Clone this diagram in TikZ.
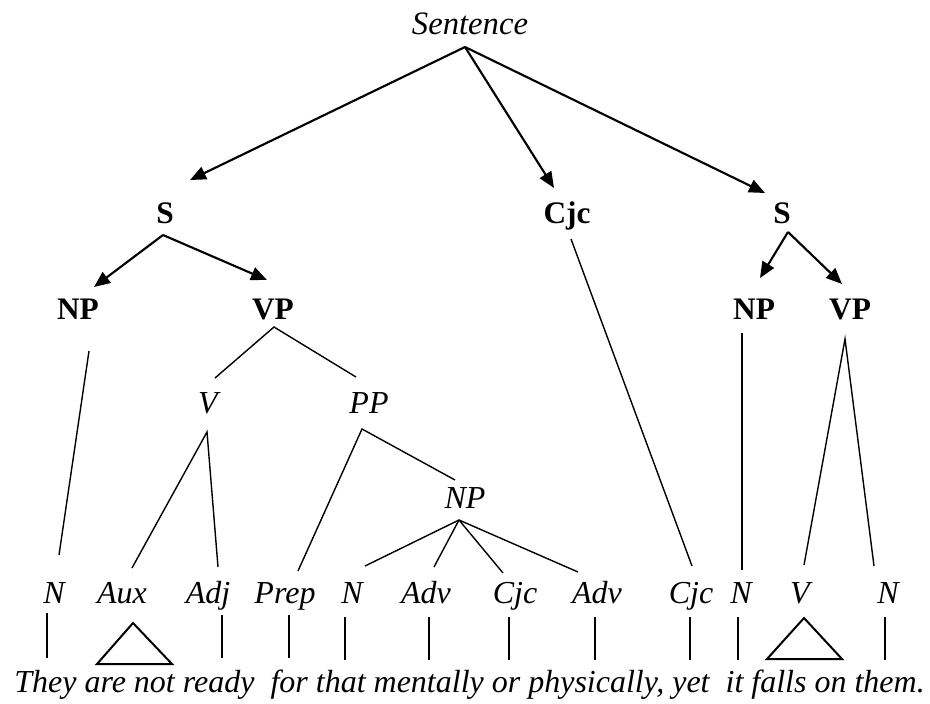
\documentclass[tikz,border=0pt]{standalone}
\usepackage{fontspec}
\setmainfont{Liberation Serif}
\usetikzlibrary{arrows.meta}
\begin{document}
\begin{tikzpicture}[x=0.75pt,y=-0.75pt,
  lab/.style={anchor=base,inner sep=0pt},
  topl/.style={lab,font=\fontsize{24.5}{29}\selectfont\itshape},
  cat/.style={lab,font=\fontsize{23.5}{28}\selectfont\bfseries},
  mid/.style={lab,font=\fontsize{24}{28}\selectfont\itshape},
  leaf/.style={lab,font=\fontsize{24}{28}\selectfont\itshape},
  arr/.style={line width=1.6pt,-{Triangle[length=12pt,width=10pt]}},
  ln/.style={line width=1.05pt},
  bar/.style={line width=1.15pt},
  tri/.style={line width=1.5pt,line join=miter}]
\useasboundingbox (0,0) rectangle (930,703);
% nodes
\node[topl] (Sent) at (470,34) {Sentence};
\node[cat] (S1) at (165,223) {S};
\node[cat] (Cjc0) at (567,223) {Cjc};
\node[cat] (S2) at (782,223) {S};
\node[cat] (NP1) at (78,319) {NP};
\node[cat] (VP1) at (273,319) {VP};
\node[cat] (NP2) at (754,319) {NP};
\node[cat] (VP2) at (850,319) {VP};
\node[mid] (V1) at (208,413) {V};
\node[mid] (PP) at (369,413) {PP};
\node[mid] (NP3) at (465,508) {NP};
\node[leaf] (N1) at (54,603) {N};
\node[leaf] (Aux) at (122,603) {Aux};
\node[leaf] (Adj) at (208,603) {Adj};
\node[leaf] (Prep) at (285,603) {Prep};
\node[leaf] (N2) at (352,603) {N};
\node[leaf] (Adv1) at (426,603) {Adv};
\node[leaf] (Cjc1) at (515,603) {Cjc};
\node[leaf] (Adv2) at (597,603) {Adv};
\node[leaf] (Cjc2) at (691,603) {Cjc};
\node[leaf] (N3) at (741,603) {N};
\node[leaf] (V2) at (800,603) {V};
\node[leaf] (N4) at (888,603) {N};
\node[leaf] (W) at (469.5,692) {They are not ready\ \ for that mentally or physically, yet\ \ it falls on them.};
% arrows
\draw[arr] ([shift={(-5,13)}]Sent.base) -- ([shift={(25,-43)}]S1.base);
\draw[arr] ([shift={(-5,13)}]Sent.base) -- ([shift={(-13,-35)}]Cjc0.base);
\draw[arr] ([shift={(-5,13)}]Sent.base) -- ([shift={(-17,-30)}]S2.base);
\draw[arr] ([shift={(-2,12)}]S1.base) -- ([shift={(16,-32)}]NP1.base);
\draw[arr] ([shift={(-2,12)}]S1.base) -- ([shift={(-6,-39)}]VP1.base);
\draw[arr] ([shift={(6,9)}]S2.base) -- ([shift={(6,-41)}]NP2.base);
\draw[arr] ([shift={(6,9)}]S2.base) -- ([shift={(-8,-35)}]VP2.base);
% lines
\draw[ln] ([shift={(11,32)}]NP1.base) -- ([shift={(5,-48)}]N1.base);
\draw[ln] ([shift={(7,-35)}]V1.base) -- ([shift={(1,8)}]VP1.base) -- ([shift={(-13,-36)}]PP.base);
\draw[ln] ([shift={(10,-35)}]Aux.base) -- ([shift={(-1,19)}]V1.base) -- ([shift={(10,-36)}]Adj.base);
\draw[ln] ([shift={(13,-32)}]Prep.base) -- ([shift={(-7,16)}]PP.base) -- ([shift={(-10,-28)}]NP3.base);
\draw[ln] ([shift={(-6,12)}]NP3.base) -- ([shift={(13,-37)}]N2.base);
\draw[ln] ([shift={(-6,12)}]NP3.base) -- ([shift={(8,-36)}]Adv1.base);
\draw[ln] ([shift={(-6,12)}]NP3.base) -- ([shift={(-12,-30)}]Cjc1.base);
\draw[ln] ([shift={(-6,12)}]NP3.base) -- ([shift={(-19,-31)}]Adv2.base);
\draw[ln] ([shift={(4,16)}]Cjc0.base) -- ([shift={(1,-37)}]Cjc2.base);
\draw[ln] ([shift={(-12,14)}]NP2.base) -- ([shift={(1,-33)}]N3.base);
\draw[ln] ([shift={(4,-38)}]V2.base) -- ([shift={(-5,20)}]VP2.base) -- ([shift={(-14,-37)}]N4.base);
% bars
\draw[bar] ([shift={(-7,10)}]N1.base) -- ([shift={(-7,55)}]N1.base);
\draw[bar] ([shift={(14,12)}]Adj.base) -- ([shift={(14,55)}]Adj.base);
\draw[bar] ([shift={(4,12)}]Prep.base) -- ([shift={(4,55)}]Prep.base);
\draw[bar] ([shift={(-7,14)}]N2.base) -- ([shift={(-7,57)}]N2.base);
\draw[bar] ([shift={(3,14)}]Adv1.base) -- ([shift={(3,57)}]Adv1.base);
\draw[bar] ([shift={(-6,14)}]Cjc1.base) -- ([shift={(-6,57)}]Cjc1.base);
\draw[bar] ([shift={(-2,14)}]Adv2.base) -- ([shift={(-2,57)}]Adv2.base);
\draw[bar] ([shift={(-1,14)}]Cjc2.base) -- ([shift={(-1,57)}]Cjc2.base);
\draw[bar] ([shift={(-3,14)}]N3.base) -- ([shift={(-3,57)}]N3.base);
\draw[bar] ([shift={(-3,14)}]N4.base) -- ([shift={(-3,57)}]N4.base);
% triangles
\draw[tri] ([shift={(11,20)}]Aux.base) -- ([shift={(-25,61)}]Aux.base) -- ([shift={(50,61)}]Aux.base) -- cycle;
\draw[tri] ([shift={(4,15)}]V2.base) -- ([shift={(-33,56)}]V2.base) -- ([shift={(42,56)}]V2.base) -- cycle;
\end{tikzpicture}
\end{document}
